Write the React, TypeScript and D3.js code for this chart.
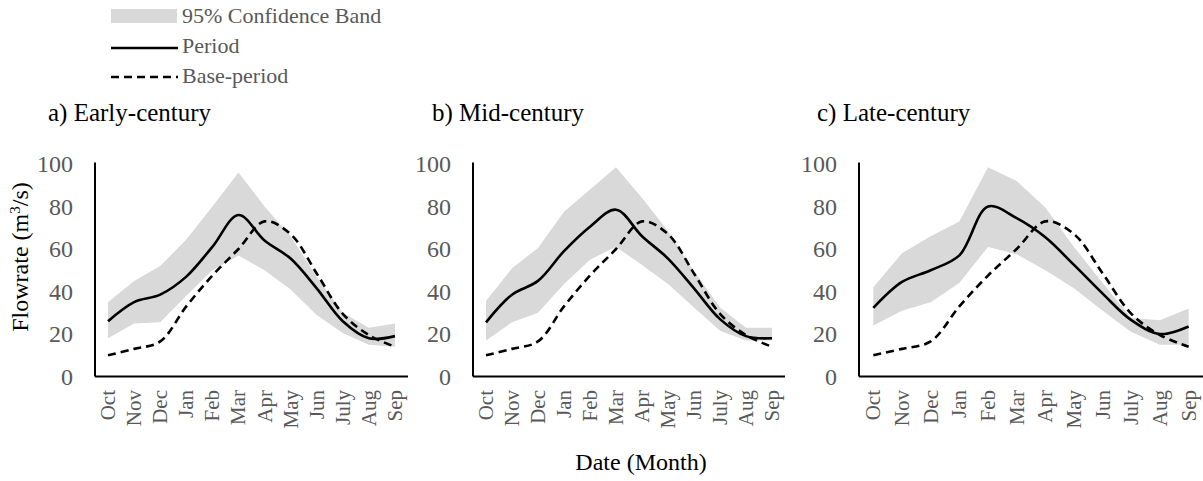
import React from "react";
import * as d3 from "d3";

const monthLabels = ["Oct", "Nov", "Dec", "Jan", "Feb", "Mar", "Apr", "May", "Jun", "July", "Aug", "Sep"];
const yTicks = [0, 20, 40, 60, 80, 100];

const basePeriod = [10, 13, 16.5, 33, 47.5, 60, 73, 67, 48.5, 29.5, 19.5, 14];

const earlyPeriod = [26, 35, 38.5, 47, 61, 76, 64, 55.5, 41.5, 26, 18, 19];
const earlyUpper = [35, 45, 52, 64.5, 80, 96, 80, 66, 47, 30, 23, 25];
const earlyLower = [18, 25, 25.5, 38, 50, 57, 50, 41, 29, 20.5, 15, 14];

const midPeriod = [25.5, 38.5, 45, 59, 70.5, 78.5, 66, 55.5, 41.5, 27, 19, 18];
const midUpper = [35.5, 51, 60.5, 77.5, 88, 98.5, 84, 68.5, 49.5, 32.5, 23, 23];
const midLower = [17, 25.5, 30, 43.5, 55, 61, 52.5, 43.5, 32.5, 21.5, 17, 17];

const latePeriod = [32.3, 44.5, 50, 57, 80, 74.5, 65.5, 52.5, 39, 26.5, 20, 23.5];
const lateUpper = [42, 58, 66, 73, 98.5, 92, 79.5, 61, 44, 27.5, 26.5, 32];
const lateLower = [24, 31, 35, 44, 61, 57.5, 50, 41.5, 31, 21, 15, 15];

const panelTitles = ["a) Early-century", "b) Mid-century", "c) Late-century"];

const FONT = "Liberation Serif, serif";
const GRAY = "#595959";

const panels = [
  { title: panelTitles[0], period: earlyPeriod, upper: earlyUpper, lower: earlyLower, x0: 95, x1: 408, tx: 48 },
  { title: panelTitles[1], period: midPeriod, upper: midUpper, lower: midLower, x0: 473, x1: 785, tx: 432 },
  { title: panelTitles[2], period: latePeriod, upper: lateUpper, lower: lateLower, x0: 859, x1: 1203, tx: 817 },
];

const Y0 = 376.5;
const Y100 = 164;
const AXIS_TOP = 162.5;

function Panel({ p }: { p: any }) {
  const x = d3.scaleBand<string>().domain(monthLabels).range([p.x0, p.x1]).padding(0);
  const y = d3.scaleLinear().domain([0, 100]).range([Y0, Y100]);
  const cx = (i: number) => (x(monthLabels[i]) as number) + x.bandwidth() / 2;
  const idx = monthLabels.map((_, i) => i);

  const area = d3
    .area<number>()
    .x((i) => cx(i))
    .y0((i) => y(p.lower[i]))
    .y1((i) => y(p.upper[i]));
  const line = (vals: number[]) =>
    d3
      .line<number>()
      .x((i) => cx(i))
      .y((i) => y(vals[i]))
      .curve(d3.curveCatmullRom.alpha(0.5))(idx) as string;

  return (
    <g>
      <text x={p.tx} y={121} fontSize={25} fontFamily={FONT} fill="#000">
        {p.title}
      </text>
      <path d={area(idx) as string} fill="#d9d9d9" />
      <path d={line(basePeriod)} fill="none" stroke="#000" strokeWidth={2.6} strokeDasharray="8,5" />
      <path d={line(p.period)} fill="none" stroke="#000" strokeWidth={2.6} />
      <line x1={p.x0} x2={p.x0} y1={AXIS_TOP} y2={Y0} stroke="#000" strokeWidth={2} />
      <line x1={p.x0} x2={p.x1} y1={Y0} y2={Y0} stroke="#000" strokeWidth={2} />
      {yTicks.map((t) => (
        <text
          key={t}
          x={p.x0 - 22}
          y={y(t)}
          textAnchor="end"
          dominantBaseline="central"
          fontSize={24}
          fontFamily={FONT}
          fill={GRAY}
        >
          {t}
        </text>
      ))}
      {monthLabels.map((m, i) => (
        <text
          key={m}
          transform={`translate(${cx(i)},${390}) rotate(-90)`}
          textAnchor="end"
          dominantBaseline="central"
          fontSize={21}
          fontFamily={FONT}
          fill={GRAY}
        >
          {m}
        </text>
      ))}
    </g>
  );
}

export default function App() {
  return (
    <svg
      width={1203}
      height={481}
      style={{ position: "absolute", left: 0, top: 0, background: "#fff" }}
    >
      <rect x={0} y={0} width={1203} height={481} fill="#fff" />
      {/* legend */}
      <rect x={111} y={9} width={66} height={14} fill="#d9d9d9" />
      <text x={182} y={23} fontSize={22} fontFamily={FONT} fill={GRAY}>
        95% Confidence Band
      </text>
      <line x1={111} x2={178} y1={48} y2={48} stroke="#000" strokeWidth={2.6} />
      <text x={182} y={53} fontSize={22} fontFamily={FONT} fill={GRAY}>
        Period
      </text>
      <line x1={111} x2={178} y1={77} y2={77} stroke="#000" strokeWidth={2.6} strokeDasharray="8,5" />
      <text x={182} y={83} fontSize={22} fontFamily={FONT} fill={GRAY}>
        Base-period
      </text>

      {panels.map((p, i) => (
        <Panel key={i} p={p} />
      ))}

      <text
        transform="translate(28,257) rotate(-90)"
        textAnchor="middle"
        fontSize={24}
        fontFamily={FONT}
        fill="#000"
      >
        Flowrate (m
        <tspan baselineShift="super" fontSize={15}>3</tspan>
        /s)
      </text>
      <text x={641} y={470} textAnchor="middle" fontSize={24} fontFamily={FONT} fill="#000">
        Date (Month)
      </text>
    </svg>
  );
}
